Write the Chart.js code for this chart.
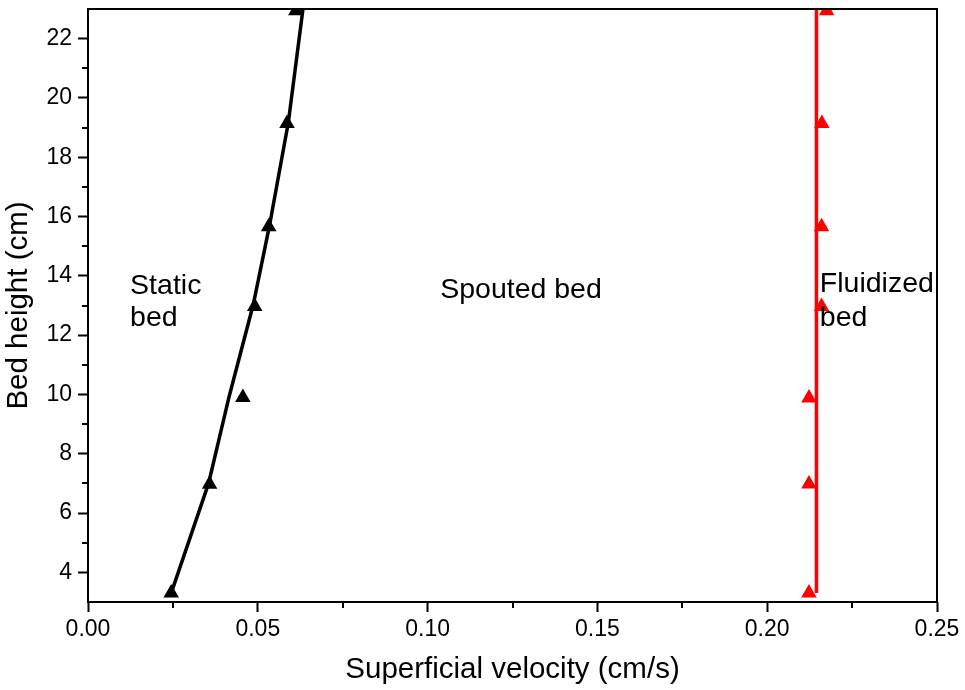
<!DOCTYPE html>
<html>
<head>
<meta charset="utf-8">
<script src="https://cdn.jsdelivr.net/npm/chart.js@4.4.1/dist/chart.umd.min.js"></script>
<style>
  html, body { margin: 0; padding: 0; background: #fff; }
  #wrap { width: 965px; height: 690px; }
</style>
</head>
<body>
<div id="wrap"><canvas id="chart" width="965" height="690"></canvas></div>
<script>
// measured points (triangles)
const staticX = [0.0245, 0.0358, 0.0456, 0.0491, 0.0532, 0.0586, 0.0612];
const staticY = [3.30, 6.97, 9.90, 12.97, 15.66, 19.14, 22.94];
const fluidX = [0.2123, 0.2123, 0.2123, 0.2160, 0.2160, 0.2161, 0.2175];
const fluidY = [3.30, 6.98, 9.88, 12.97, 15.66, 19.14, 22.94];

// boundary lines
const fitX = [0.0245, 0.0355, 0.0416, 0.0487, 0.0535, 0.0590, 0.0633];
const fitY = [3.30, 7.00, 9.95, 13.05, 15.73, 19.18, 23.00];
const redLineX = [0.2145, 0.2145];
const redLineY = [3.30, 23.00];

// axes
const xTicks = [0, 0.05, 0.10, 0.15, 0.20, 0.25];
const xMinor = [0.025, 0.075, 0.125, 0.175, 0.225];
const yTicks = [4, 6, 8, 10, 12, 14, 16, 18, 20, 22];
const yMinor = [5, 7, 9, 11, 13, 15, 17, 19, 21];

// region labels
const notes = [
  { text: 'Static', x: 0.0124, y: 13.39 },
  { text: 'bed', x: 0.0124, y: 12.30 },
  { text: 'Spouted bed', x: 0.1037, y: 13.26 },
  { text: 'Fluidized', x: 0.2155, y: 13.47 },
  { text: 'bed', x: 0.2155, y: 12.30 }
];

const FONT = "'Liberation Sans', Arial, sans-serif";
const pts = (xs, ys) => xs.map((x, i) => ({ x: x, y: ys[i] }));

const framePlugin = {
  id: 'frame',
  afterDraw(chart) {
    const ctx = chart.ctx;
    const a = chart.chartArea;
    const xs = chart.scales.x, ys = chart.scales.y;
    ctx.save();
    ctx.strokeStyle = '#000';
    ctx.lineWidth = 2;
    ctx.strokeRect(a.left, a.top, a.right - a.left, a.bottom - a.top);
    // minor ticks
    ctx.beginPath();
    xMinor.forEach(v => {
      const px = Math.round(xs.getPixelForValue(v));
      ctx.moveTo(px, a.bottom);
      ctx.lineTo(px, a.bottom + 6);
    });
    yMinor.forEach(v => {
      const py = Math.round(ys.getPixelForValue(v));
      ctx.moveTo(a.left, py);
      ctx.lineTo(a.left - 6, py);
    });
    ctx.stroke();
    // labels
    ctx.fillStyle = '#000';
    ctx.font = '28.5px ' + FONT;
    ctx.textAlign = 'left';
    ctx.textBaseline = 'alphabetic';
    notes.forEach(n => {
      ctx.fillText(n.text, xs.getPixelForValue(n.x), ys.getPixelForValue(n.y));
    });
    ctx.restore();
  }
};

new Chart(document.getElementById('chart'), {
  type: 'scatter',
  data: {
    datasets: [
      {
        data: pts(staticX, staticY),
        pointStyle: 'triangle',
        pointRadius: 9,
        pointBackgroundColor: '#000',
        pointBorderWidth: 0,
        showLine: false,
        clip: 0,
        order: 1
      },
      {
        data: pts(fluidX, fluidY),
        pointStyle: 'triangle',
        pointRadius: 9,
        pointBackgroundColor: '#ff0000',
        pointBorderWidth: 0,
        showLine: false,
        clip: 0,
        order: 1
      },
      {
        data: pts(fitX, fitY),
        showLine: true,
        borderColor: '#000',
        borderWidth: 3.5,
        pointRadius: 0,
        order: 2
      },
      {
        data: pts(redLineX, redLineY),
        showLine: true,
        borderColor: '#ff0000',
        borderWidth: 3.5,
        pointRadius: 0,
        order: 0
      }
    ]
  },
  options: {
    responsive: false,
    animation: false,
    devicePixelRatio: 1,
    layout: { padding: { top: 8, right: 28, left: 0, bottom: 0 } },
    plugins: { legend: { display: false }, tooltip: { enabled: false } },
    scales: {
      x: {
        type: 'linear',
        min: 0,
        max: 0.25,
        afterBuildTicks: s => { s.ticks = xTicks.map(v => ({ value: v })); },
        afterFit: s => { s.height = 88; s.paddingLeft = 0; s.paddingRight = 0; },
        ticks: {
          callback: v => v.toFixed(2),
          color: '#000',
          font: { family: FONT, size: 23 },
          padding: 4,
          maxRotation: 0
        },
        grid: { drawOnChartArea: false, tickLength: 10, tickWidth: 2, tickColor: '#000' },
        border: { display: false },
        title: {
          display: true,
          text: 'Superficial velocity (cm/s)',
          color: '#000',
          font: { family: FONT, size: 29.5 },
          padding: { top: 0, bottom: 2 }
        }
      },
      y: {
        type: 'linear',
        min: 3,
        max: 23,
        afterBuildTicks: s => { s.ticks = yTicks.map(v => ({ value: v })); },
        afterFit: s => { s.width = 88; s.paddingTop = 0; s.paddingBottom = 0; },
        ticks: {
          callback: v => String(v),
          color: '#000',
          font: { family: FONT, size: 23 },
          padding: 6
        },
        grid: { drawOnChartArea: false, tickLength: 10, tickWidth: 2, tickColor: '#000' },
        border: { display: false },
        title: {
          display: true,
          text: 'Bed height (cm)',
          color: '#000',
          font: { family: FONT, size: 29.5 },
          padding: { top: 1, bottom: 0 }
        }
      }
    }
  },
  plugins: [framePlugin]
});
</script>
</body>
</html>
